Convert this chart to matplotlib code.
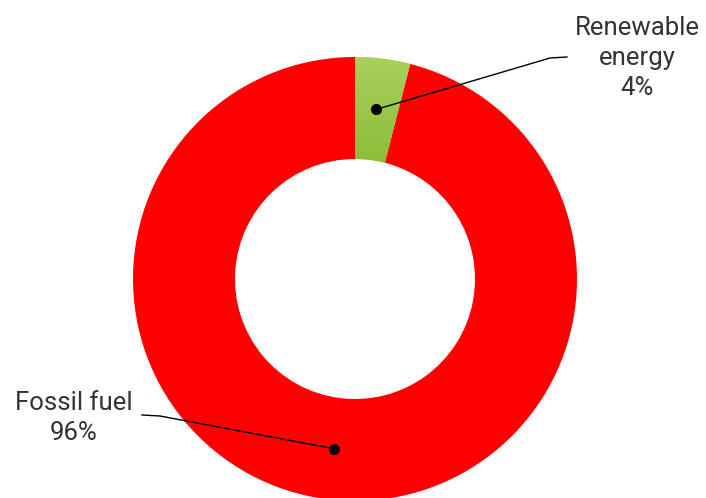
import matplotlib
matplotlib.use('Agg')
import numpy as np
import matplotlib.pyplot as plt

labels = ['Renewable\nenergy', 'Fossil fuel']
shares = [4, 96]
colors = ['#9fcb4c', '#ff0000']

plt.rcParams['font.family'] = ['Roboto', 'DejaVu Sans']

W, H = 706, 498
fig = plt.figure(figsize=(W / 100, H / 100), dpi=100)
ax = fig.add_axes([0, 0, 1, 1])

cx, cy = 355, 219
R, ring = 222, 102
wedges, _ = ax.pie(shares, colors=colors, startangle=90, counterclock=False,
                   center=(cx, cy), radius=R, frame=True,
                   wedgeprops=dict(width=ring, linewidth=0))
ax.set_xlim(0, W)
ax.set_ylim(0, H)
ax.set_aspect('equal')
ax.axis('off')

# light-to-dark gradient on the green slice
grad = np.linspace(0, 1, 256).reshape(-1, 1)
cmap = matplotlib.colors.LinearSegmentedColormap.from_list('g', ['#8cbd3a', '#a9d15c'])
img = ax.imshow(grad, cmap=cmap, origin='lower', aspect='auto',
                extent=(cx - 5, cx + 70, cy + R - ring - 5, cy + R + 2), zorder=2)
img.set_clip_path(wedges[0])
ax.set_xlim(0, W)
ax.set_ylim(0, H)

# labels with leader lines
text_pos = [(637, 440), (74, 80)]
elbows = [[(550, 440), (567, 441)], [(160, 82), (142, 83)]]
for w, lab, pct, tp, el in zip(wedges, labels, shares, text_pos, elbows):
    mid = np.deg2rad((w.theta1 + w.theta2) / 2)
    r = R - ring / 2
    px, py = cx + r * np.cos(mid), cy + r * np.sin(mid)
    ax.plot([px, el[0][0], el[1][0]], [py, el[0][1], el[1][1]], color='black', lw=1, zorder=3)
    ax.plot(px, py, 'o', color='black', ms=7, zorder=4)
    ax.text(tp[0], tp[1], f'{lab}\n{pct}%', ha='center', va='center', fontsize=18.5,
            color='#333333', linespacing=1.33)

fig.savefig('out.png', dpi=100)
